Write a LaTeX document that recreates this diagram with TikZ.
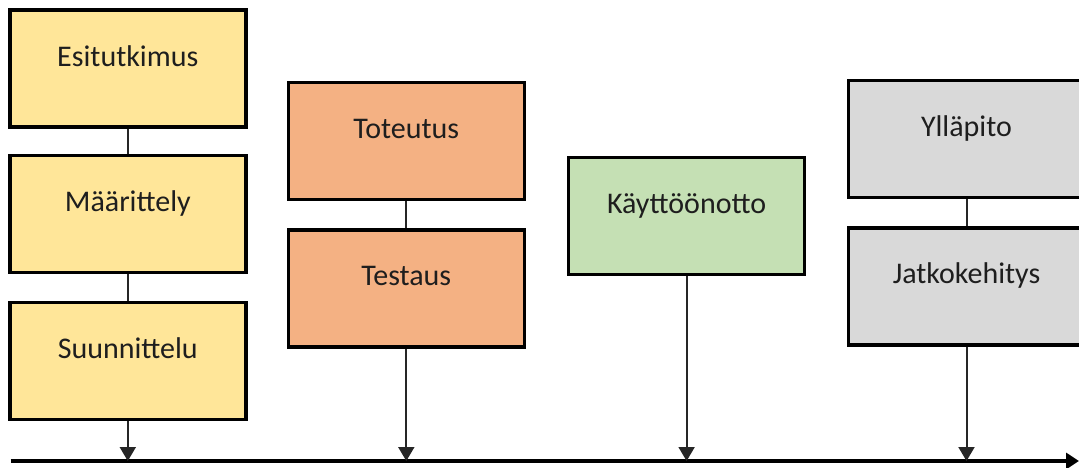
\documentclass[tikz,border=0pt]{standalone}
\usepackage{fontspec}
\setmainfont{Carlito}
\usetikzlibrary{arrows.meta}
\definecolor{phaseYellow}{HTML}{FFE699}
\definecolor{phaseOrange}{HTML}{F4B183}
\definecolor{phaseGreen}{HTML}{C5E0B4}
\definecolor{phaseGray}{HTML}{D9D9D9}
\definecolor{labelInk}{HTML}{1E1E1E}
\begin{document}
\begin{tikzpicture}[x=1pt,y=-1pt,
  phase/.style={draw=black, line width=3.5pt, rectangle, inner sep=0pt,
    minimum width=236pt, minimum height=117pt,
    text height=56pt, text depth=61pt, text=labelInk,
    font=\fontsize{30}{36}\selectfont},
  link/.style={line width=2pt, draw=black!85},
  drop/.style={link, -{Triangle[width=16pt,length=14pt]}},
  axis/.style={line width=3.5pt, -{Triangle[width=16pt,length=13pt]}}]
  \useasboundingbox (0,0) rectangle (1079,468);

  % planning phase
  \node[phase, fill=phaseYellow] (esi) at (127.8,68.7) {Esitutkimus};
  \node[phase, fill=phaseYellow] (maar) at (127.8,213.9) {Määrittely};
  \node[phase, fill=phaseYellow] (suun) at (127.8,360.8) {Suunnittelu};

  % build phase
  \node[phase, fill=phaseOrange] (tot) at (406.3,141) {Toteutus};
  \node[phase, fill=phaseOrange] (test) at (406.3,288.4) {Testaus};

  % roll-out
  \node[phase, fill=phaseGreen] (kay) at (686.6,215.9) {Käyttöönotto};

  % after roll-out
  \node[phase, fill=phaseGray] (yll) at (966.5,139) {Ylläpito};
  \node[phase, fill=phaseGray] (jatko) at (966.5,286.3) {Jatkokehitys};

  % time axis
  \coordinate (t0) at (10.5,461);
  \coordinate (t1) at (1079,461);
  \draw[axis] (t0) -- (t1);

  \coordinate (d1) at (suun.south |- 0,461);
  \coordinate (d2) at (test.south |- 0,461);
  \coordinate (d3) at (kay.south |- 0,461);
  \coordinate (d4) at (jatko.south |- 0,461);

  % links inside each phase
  \draw[link] (esi) -- (maar);
  \draw[link] (maar) -- (suun);
  \draw[link] (tot) -- (test);
  \draw[link] (yll) -- (jatko);

  % drops onto the axis
  \draw[drop] (suun.south) -- (d1);
  \draw[drop] (test.south) -- (d2);
  \draw[drop] (kay.south) -- (d3);
  \draw[drop] (jatko.south) -- (d4);
\end{tikzpicture}
\end{document}
